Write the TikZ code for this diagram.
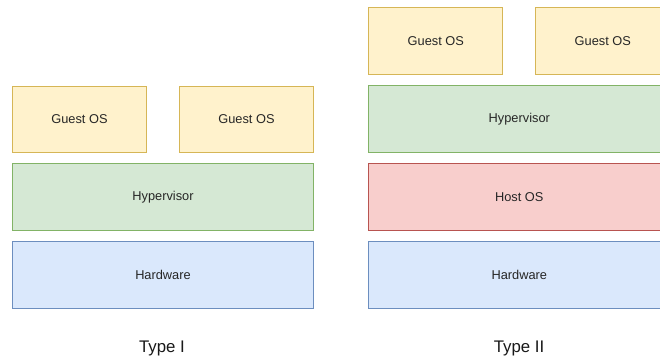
\documentclass[tikz,border=0pt]{standalone}
\usepackage{fontspec}
\setmainfont{Liberation Sans}
\definecolor{yfill}{HTML}{FFF2CC}\definecolor{ydraw}{HTML}{D6B656}
\definecolor{gfill}{HTML}{D5E8D4}\definecolor{gdraw}{HTML}{82B366}
\definecolor{rfill}{HTML}{F8CECC}\definecolor{rdraw}{HTML}{B85450}
\definecolor{bfill}{HTML}{DAE8FC}\definecolor{bdraw}{HTML}{6C8EBF}
\tikzset{
  layer/.style={rectangle, anchor=north west, minimum height=66.7*0.75pt, inner sep=0pt,
    line width=0.75pt, font=\fontsize{9.6pt}{11pt}\selectfont, text=black!85},
  small/.style={layer, minimum width=134*0.75pt},
  wide/.style={layer, minimum width=301*0.75pt},
  guest/.style={fill=yfill, draw=ydraw},
  hyper/.style={fill=gfill, draw=gdraw},
  host/.style={fill=rfill, draw=rdraw},
  hard/.style={fill=bfill, draw=bdraw},
  caption/.style={font=\fontsize{12.6pt}{15pt}\selectfont, text=black!90}
}
\begin{document}
\begin{tikzpicture}[x=0.75pt, y=-0.75pt]
\clip (0,0) rectangle (660,363);
\fill[white] (0,0) rectangle (660,363);
% Type I
\node[small, guest] (g1) at (12,85.7) {Guest OS};
\node[small, guest] (g2) at (179,85.7) {Guest OS};
\node[wide, hyper] (h1) at (12,163.5) {Hypervisor};
\node[wide, hard] (hw1) at (12,241.3) {Hardware};
\node[caption] (t1) at (162,348) {Type I};
% Type II
\node[small, guest] (g3) at (368.3,7.3) {Guest OS};
\node[small, guest] (g4) at (535.3,7.3) {Guest OS};
\node[wide, hyper] (h2) at (368.3,85.3) {Hypervisor};
\node[wide, host] (os2) at (368.3,163.3) {Host OS};
\node[wide, hard] (hw2) at (368.3,241.3) {Hardware};
\node[caption] (t2) at (519,348) {Type II};
\end{tikzpicture}
\end{document}
